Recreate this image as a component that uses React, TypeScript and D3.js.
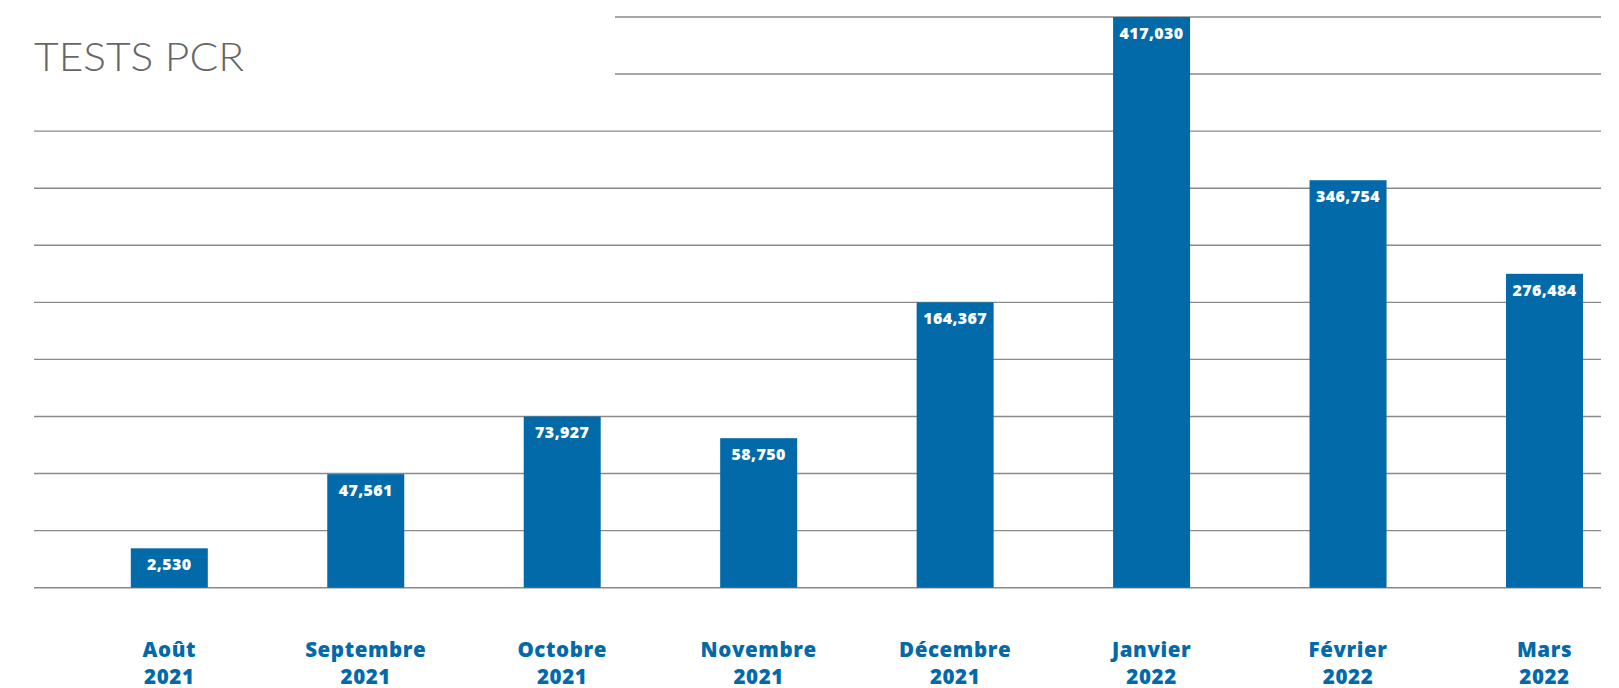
import * as d3 from "d3";

// Monthly PCR tests
const months = ["Août", "Septembre", "Octobre", "Novembre", "Décembre", "Janvier", "Février", "Mars"];
const years = ["2021", "2021", "2021", "2021", "2021", "2022", "2022", "2022"];
const testCounts = [2530, 47561, 73927, 58750, 164367, 417030, 346754, 276484];
// bar heights as drawn in the source, in grid steps (the source is not to scale)
const barLevels = [0.69, 1.99, 3, 2.62, 5, 10, 7.14, 5.5];
const gridLevels = d3.range(0, 11);

const WIDTH = 1619;
const HEIGHT = 688;
const BLUE = "#036aaa";

export default function App() {
  const y = d3.scaleLinear().domain([0, 10]).range([587.7, 17]);
  const x = d3.scalePoint<string>().domain(months).range([169.3, 1544.5]);
  const barWidth = 77;
  const fmt = d3.format(",");

  return (
    <div style={{ position: "fixed", left: 0, top: 0, background: "#fff" }}>
      <svg width={WIDTH} height={HEIGHT} style={{ display: "block" }}>
        <rect width={WIDTH} height={HEIGHT} fill="#fff" />
        <text
          x={34}
          y={71}
          fill="#666"
          fontFamily="Lato, 'Open Sans', sans-serif"
          fontWeight={300}
          fontSize={39}
          textLength={210}
          lengthAdjust="spacingAndGlyphs"
        >
          TESTS PCR
        </text>

        {/* grid */}
        <g>
          {gridLevels.map((lv) => (
            <line
              key={lv}
              x1={lv >= 9 ? 615 : 34}
              x2={1601}
              y1={y(lv)}
              y2={y(lv)}
              stroke="#8a8a8a"
              strokeWidth={1.4}
            />
          ))}
        </g>

        {/* bars */}
        <g>
          {months.map((m, i) => (
            <g key={m}>
              <rect
                x={(x(m) ?? 0) - barWidth / 2}
                y={y(barLevels[i])}
                width={barWidth}
                height={y(0) - y(barLevels[i])}
                fill={BLUE}
              />
              <text
                x={x(m)}
                y={y(barLevels[i]) + 22}
                textAnchor="middle"
                fill="#fff"
                fontFamily="'Open Sans', sans-serif"
                fontWeight={800}
                fontSize={16}
                letterSpacing={0.4}
              >
                {fmt(testCounts[i])}
              </text>
            </g>
          ))}
        </g>

        {/* x labels */}
        <g
          fill={BLUE}
          fontFamily="'Open Sans', sans-serif"
          fontWeight={800}
          fontSize={20.5}
          letterSpacing={0.6}
          textAnchor="middle"
        >
          {months.map((m, i) => (
            <text key={m} x={x(m)} y={657}>
              <tspan x={x(m)}>{m}</tspan>
              <tspan x={x(m)} dy={26.5}>
                {years[i]}
              </tspan>
            </text>
          ))}
        </g>
      </svg>
    </div>
  );
}
